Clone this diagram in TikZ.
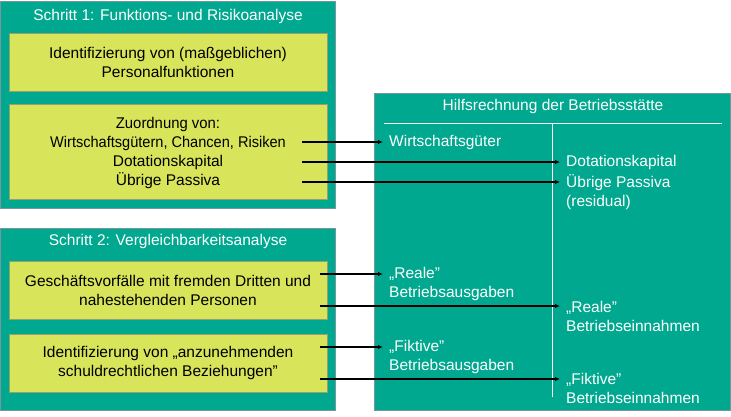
\documentclass[tikz,border=0pt]{standalone}
\usepackage{fontspec}
\setmainfont{Liberation Sans}
\usetikzlibrary{arrows.meta}
\definecolor{teal1}{RGB}{0,168,143}
\definecolor{yel1}{RGB}{216,228,90}
\definecolor{outerln}{RGB}{120,150,160}
\definecolor{yelln}{RGB}{150,160,110}
\tikzset{
  outerbox/.style={draw=outerln, line width=0.8pt, fill=teal1, inner sep=0pt, anchor=north west},
  yelbox/.style={draw=yelln, line width=0.6pt, fill=yel1, inner sep=0pt, anchor=north west, minimum width=318pt},
  txt/.style={font=\fontsize{15.5}{19}\selectfont, inner sep=1pt},
  wtxt/.style={txt, text=white},
  btxt/.style={txt, text=black, align=center},
  rtxt/.style={wtxt, align=left, anchor=west},
  conn/.style={line width=1.2pt, black, -{Latex[length=5pt,width=4.5pt]}},
}
\begin{document}
\begin{tikzpicture}[x=1pt,y=-1pt]
\useasboundingbox (0,0) rectangle (731,416);
% Step 1
\node[outerbox, minimum width=335pt, minimum height=207pt] (s1) at (0,1) {};
\node[wtxt] (s1t) at (168,16) {Schritt 1: Funktions- und Risikoanalyse};
\node[yelbox, minimum height=58pt] (y1) at (9,33) {};
\node[btxt] (y1t) at (168,62.5) {Identifizierung von (maßgeblichen)\\Personalfunktionen};
\node[yelbox, minimum height=95pt] (y2) at (9,104) {};
\node[btxt] (y2t) at (168,153) {\scalebox{0.96}[1]{Zuordnung von:}\\\scalebox{0.94}[1]{Wirtschaftsgütern, Chancen, Risiken}\\Dotationskapital\\Übrige Passiva};
% Step 2
\node[outerbox, minimum width=335pt, minimum height=182pt] (s2) at (0,228) {};
\node[wtxt] (s2t) at (168,241) {Schritt 2: Vergleichbarkeitsanalyse};
\node[yelbox, minimum height=58pt] (y3) at (9,261) {};
\node[btxt] (y3t) at (168,290.5) {Geschäftsvorfälle mit fremden Dritten und\\nahestehenden Personen};
\node[yelbox, minimum height=58pt] (y4) at (9,334) {};
\node[btxt] (y4t) at (168,363) {Identifizierung von „anzunehmenden\\schuldrechtlichen Beziehungen”};
% Right box
\node[outerbox, minimum width=356pt, minimum height=317pt] (h) at (374,93) {};
\node[wtxt] (ht) at (553,106) {Hilfsrechnung der Betriebsstätte};
\coordinate (hl1) at (384,123);
\coordinate (hl2) at (722,123);
\coordinate (vl1) at (552,123);
\coordinate (vl2) at (552,397);
\draw[white, line width=1pt] (hl1) -- (hl2);
\draw[white, line width=1pt] (vl1) -- (vl2);
% Right texts
\node[rtxt] (r1) at (388,142) {Wirtschaftsgüter};
\node[rtxt] (r2) at (565,162) {Dotationskapital};
\node[rtxt] (r3) at (565,192.5) {Übrige Passiva\\(residual)};
\node[rtxt] (r4) at (388,284) {„Reale”\\Betriebsausgaben};
\node[rtxt] (r5) at (565,316.5) {„Reale”\\Betriebseinnahmen};
\node[rtxt] (r6) at (388,356.5) {„Fiktive”\\Betriebsausgaben};
\node[rtxt] (r7) at (565,388.5) {„Fiktive”\\Betriebseinnahmen};
% Connector coordinates
\coordinate (a1s) at (302,142); \coordinate (a1e) at (383,142);
\coordinate (a2s) at (302,162); \coordinate (a2e) at (560,162);
\coordinate (a3s) at (302,182); \coordinate (a3e) at (560,182);
\coordinate (a4s) at (320,274); \coordinate (a4e) at (383,274);
\coordinate (a5s) at (320,306); \coordinate (a5e) at (560,306);
\coordinate (a6s) at (320,347); \coordinate (a6e) at (383,347);
\coordinate (a7s) at (320,379); \coordinate (a7e) at (560,379);
\foreach \i in {1,...,7} {\draw[conn] (a\i s) -- (a\i e);}
\end{tikzpicture}
\end{document}
